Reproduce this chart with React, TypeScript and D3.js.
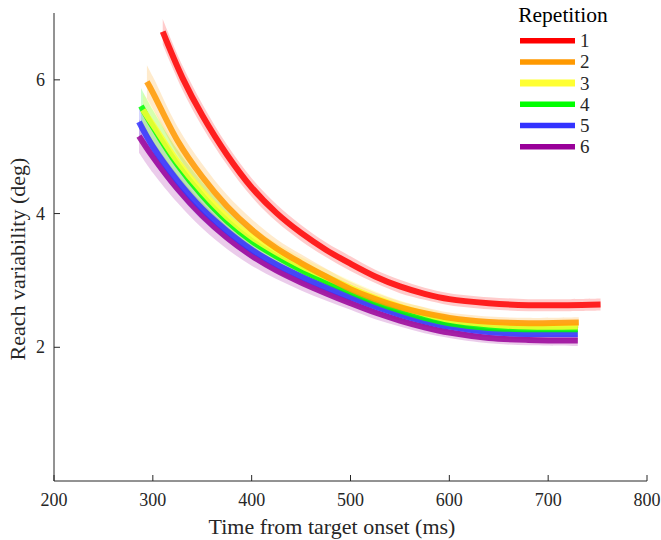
import React from "react";
import * as d3 from "d3";

const repetitions = ["1", "2", "3", "4", "5", "6"];
const colors = ["#ff0000", "#ff9900", "#ffff33", "#00ff00", "#3333ff", "#990099"];

const times1 = [310, 330, 350, 375, 400, 425, 450, 475, 500, 525, 550, 575, 600, 640, 680, 720, 753];
const mean1 = [6.72, 6.03, 5.47, 4.88, 4.39, 4.01, 3.71, 3.46, 3.25, 3.06, 2.91, 2.8, 2.72, 2.66, 2.63, 2.63, 2.64];
const ci1 = [0.19, 0.18, 0.17, 0.15, 0.14, 0.13, 0.12, 0.11, 0.11, 0.1, 0.1, 0.09, 0.09, 0.09, 0.09, 0.09, 0.09];

const times2 = [294, 300, 325, 350, 375, 400, 425, 450, 475, 500, 525, 550, 575, 600, 640, 680, 731];
const mean2 = [5.97, 5.81, 5.09, 4.55, 4.11, 3.76, 3.48, 3.26, 3.06, 2.87, 2.72, 2.6, 2.51, 2.44, 2.38, 2.36, 2.37];
const ci2 = [0.25, 0.24, 0.21, 0.19, 0.17, 0.16, 0.14, 0.13, 0.12, 0.11, 0.1, 0.09, 0.09, 0.08, 0.08, 0.08, 0.08];

const times3 = [290, 300, 325, 350, 375, 400, 425, 450, 475, 500, 525, 550, 575, 600, 640, 680, 730];
const mean3 = [5.55, 5.33, 4.78, 4.33, 3.95, 3.65, 3.42, 3.22, 3.05, 2.89, 2.74, 2.61, 2.5, 2.41, 2.34, 2.31, 2.31];
const ci3 = [0.26, 0.25, 0.22, 0.2, 0.18, 0.16, 0.14, 0.13, 0.12, 0.11, 0.1, 0.09, 0.09, 0.08, 0.08, 0.08, 0.08];

const times4 = [288, 300, 325, 350, 375, 400, 425, 450, 475, 500, 525, 550, 575, 600, 640, 680, 730];
const mean4 = [5.61, 5.3, 4.73, 4.27, 3.89, 3.59, 3.36, 3.16, 2.99, 2.83, 2.68, 2.55, 2.44, 2.36, 2.29, 2.27, 2.27];
const ci4 = [0.27, 0.25, 0.22, 0.2, 0.18, 0.16, 0.14, 0.13, 0.12, 0.11, 0.1, 0.09, 0.09, 0.08, 0.08, 0.08, 0.08];

const times5 = [286, 300, 325, 350, 375, 400, 425, 450, 475, 500, 525, 550, 575, 600, 640, 680, 730];
const mean5 = [5.37, 5.0, 4.49, 4.07, 3.74, 3.46, 3.24, 3.06, 2.9, 2.75, 2.61, 2.49, 2.39, 2.31, 2.23, 2.2, 2.2];
const ci5 = [0.22, 0.21, 0.19, 0.17, 0.15, 0.14, 0.12, 0.11, 0.1, 0.1, 0.09, 0.09, 0.08, 0.08, 0.08, 0.08, 0.08];

const times6 = [286, 300, 325, 350, 375, 400, 425, 450, 475, 500, 525, 550, 575, 600, 640, 680, 730];
const mean6 = [5.16, 4.85, 4.37, 3.97, 3.64, 3.37, 3.15, 2.97, 2.81, 2.66, 2.52, 2.4, 2.3, 2.22, 2.14, 2.11, 2.1];
const ci6 = [0.25, 0.24, 0.21, 0.19, 0.17, 0.15, 0.13, 0.12, 0.11, 0.1, 0.1, 0.09, 0.09, 0.08, 0.08, 0.08, 0.08];

const xTicks = [200, 300, 400, 500, 600, 700, 800];
const yTicks = [2, 4, 6];

const seriesTimes = [times1, times2, times3, times4, times5, times6];
const seriesMeans = [mean1, mean2, mean3, mean4, mean5, mean6];
const seriesCis = [ci1, ci2, ci3, ci4, ci5, ci6];

const W = 661;
const H = 540;
const axisColor = "#262626";
const font = "'Liberation Serif', 'Times New Roman', serif";

type Pt = { t: number; m: number; c: number };

export default function App() {
  const x = d3.scaleLinear().domain([200, 800]).range([54, 647]);
  const y = d3.scaleLinear().domain([0, 7]).range([481, 13]);

  const series: Pt[][] = repetitions.map((r, i) =>
    seriesTimes[i].map((t, j) => ({ t, m: seriesMeans[i][j], c: seriesCis[i][j] }))
  );

  const line = d3
    .line<Pt>()
    .x((d) => x(d.t))
    .y((d) => y(d.m))
    .curve(d3.curveCatmullRom.alpha(0.5));
  const area = d3
    .area<Pt>()
    .x((d) => x(d.t))
    .y0((d) => y(d.m - d.c))
    .y1((d) => y(d.m + d.c))
    .curve(d3.curveCatmullRom.alpha(0.5));

  const order = [5, 4, 3, 2, 1, 0];
  const legendY0 = 40.7;
  const legendStep = 21.2;

  return (
    <svg
      width={W}
      height={H}
      style={{ position: "absolute", left: 0, top: 0, background: "#fff" }}
      fontFamily={font}
    >
      <rect x={0} y={0} width={W} height={H} fill="#fff" />
      {order.map((i) => (
        <path key={"b" + i} d={area(series[i]) || ""} fill={colors[i]} fillOpacity={0.2} stroke="none" />
      ))}
      {order.map((i) => (
        <path
          key={"l" + i}
          d={line(series[i]) || ""}
          fill="none"
          stroke={colors[i]}
          strokeOpacity={0.85}
          strokeWidth={6}
        />
      ))}
      <line x1={54} x2={647} y1={481} y2={481} stroke={axisColor} strokeWidth={1} />
      <line x1={54} x2={54} y1={13} y2={481} stroke={axisColor} strokeWidth={1} />
      {xTicks.map((t) => (
        <g key={"xt" + t}>
          <line x1={x(t)} x2={x(t)} y1={481} y2={475} stroke={axisColor} />
          <text x={x(t)} y={506} textAnchor="middle" fontSize={18} fill={axisColor}>
            {t}
          </text>
        </g>
      ))}
      {yTicks.map((t) => (
        <g key={"yt" + t}>
          <line x1={54} x2={60} y1={y(t)} y2={y(t)} stroke={axisColor} />
          <text x={45} y={y(t) + 6} textAnchor="end" fontSize={18} fill={axisColor}>
            {t}
          </text>
        </g>
      ))}
      <text x={332} y={534} textAnchor="middle" fontSize={22} fill={axisColor}>
        Time from target onset (ms)
      </text>
      <text
        transform="translate(25, 259) rotate(-90)"
        textAnchor="middle"
        fontSize={22}
        fill={axisColor}
      >
        Reach variability (deg)
      </text>
      <text x={563} y={22} textAnchor="middle" fontSize={21.5} fill="#000">
        Repetition
      </text>
      {repetitions.map((r, i) => (
        <g key={"lg" + i}>
          <line
            x1={520}
            x2={575}
            y1={legendY0 + i * legendStep}
            y2={legendY0 + i * legendStep}
            stroke={colors[i]}
            strokeWidth={i === 2 ? 7 : 5.5}
          />
          <text x={580} y={legendY0 + i * legendStep + 6.5} fontSize={19} fill={axisColor}>
            {r}
          </text>
        </g>
      ))}
    </svg>
  );
}
